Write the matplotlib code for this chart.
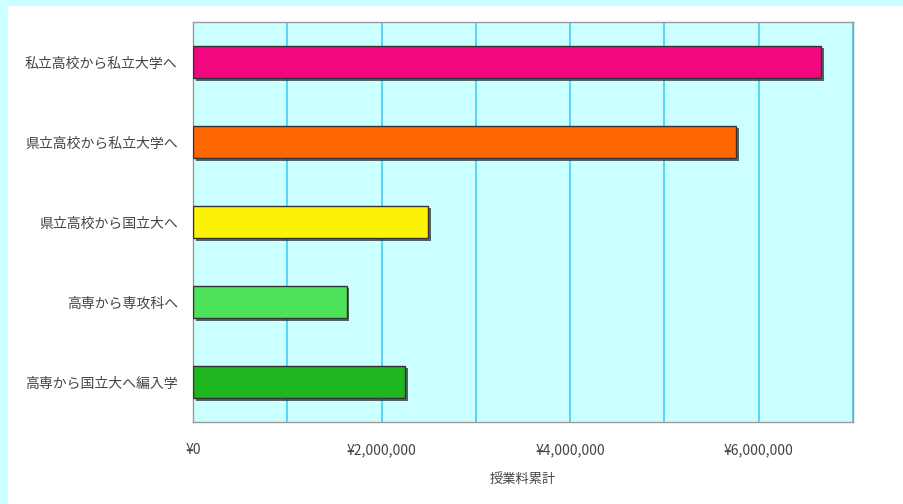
import matplotlib
matplotlib.use("Agg")
import matplotlib.pyplot as plt
import matplotlib.patheffects as pe
from matplotlib.patches import Rectangle

plt.rcParams['font.family'] = ['Noto Sans CJK JP', 'DejaVu Sans']

categories = ["私立高校から私立大学へ", "県立高校から私立大学へ", "県立高校から国立大へ",
              "高専から専攻科へ", "高専から国立大へ編入学"]
values = [6660000, 5760000, 2490000, 1630000, 2250000]
colors = ["#f2087e", "#ff6600", "#fcf206", "#4de25a", "#1fb51f"]
tick_values = [0, 1000000, 2000000, 3000000, 4000000, 5000000, 6000000, 7000000]
tick_labels = ["¥0", "", "¥2,000,000", "", "¥4,000,000", "", "¥6,000,000", ""]
xlabel = "授業料累計"

fig = plt.figure(figsize=(9.04, 5.04), dpi=100)
fig.patch.set_facecolor("#ccffff")
# white panel
fig.patches.append(Rectangle((8/904, 0), (903-8)/904, (504-6)/504, transform=fig.transFigure,
                             facecolor="white", edgecolor="none", zorder=0))

ax = fig.add_axes([193/904, 1-422/504, (853-193)/904, (422-22)/504])
ax.set_facecolor("#ccffff")
ax.set_zorder(1)

ypos = list(range(len(categories)))
bars = ax.barh(ypos, values, height=0.41, color=colors, edgecolor="#333333", linewidth=1.0, zorder=3)
for b in bars:
    b.set_path_effects([pe.SimplePatchShadow(offset=(2, -2), shadow_rgbFace="#222222", alpha=0.7), pe.Normal()])

ax.set_ylim(len(categories) - 0.5, -0.5)
ax.set_xlim(0, 7000000)
ax.set_yticks(ypos)
ax.set_yticklabels(categories, fontsize=10, color="#444444")
ax.set_xticks(tick_values)
ax.set_xticklabels(tick_labels, fontsize=10, color="#444444")
ax.tick_params(axis="both", length=0)
ax.tick_params(axis="x", pad=15)
ax.tick_params(axis="y", pad=11)
ax.xaxis.grid(True, color="#44ccf5", linewidth=1.2, zorder=1)
ax.set_axisbelow(True)
for s in ax.spines.values():
    s.set_color("#999999")
    s.set_linewidth(1.0)
ax.set_xlabel(xlabel, fontsize=9.5, color="#444444", labelpad=12)

fig.savefig("out.png", dpi=100, facecolor=fig.get_facecolor())
